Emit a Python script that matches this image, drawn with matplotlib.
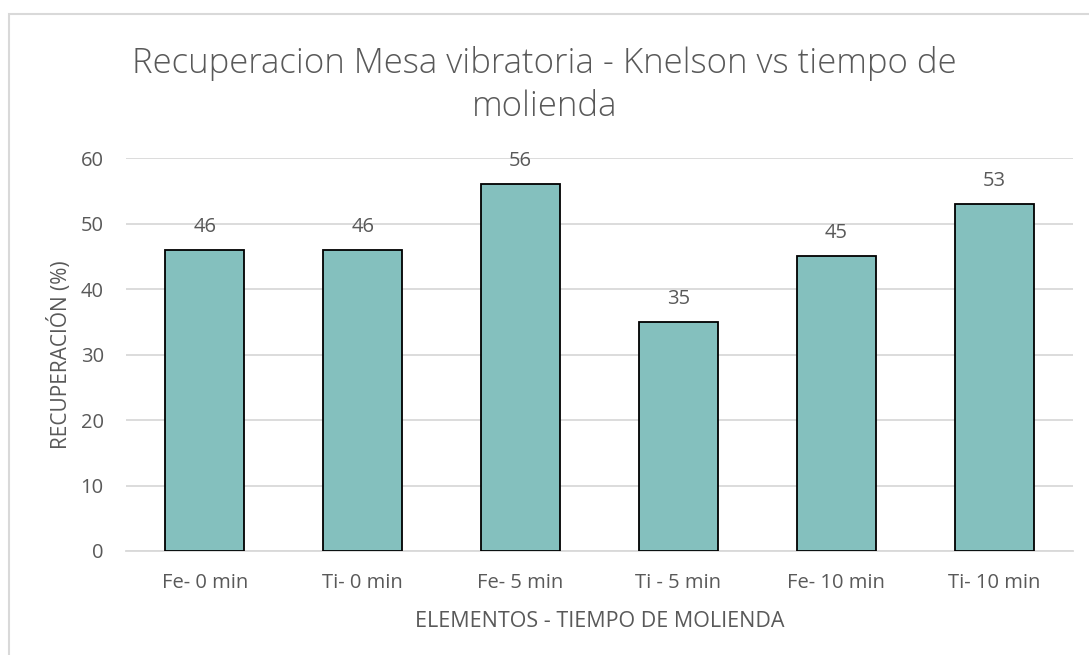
import matplotlib
matplotlib.use("Agg")
import matplotlib.pyplot as plt
from matplotlib.patches import Rectangle

categories = ["Fe- 0 min", "Ti- 0 min", "Fe- 5 min", "Ti - 5 min", "Fe- 10 min", "Ti- 10 min"]
recuperacion = [46, 46, 56, 35, 45, 53]
yticks = [0, 10, 20, 30, 40, 50, 60]

TXT = "#595959"
plt.rcParams["font.family"] = ["Open Sans", "DejaVu Sans"]

fig = plt.figure(figsize=(10.89, 6.55), dpi=100)
# chart frame (left/top edges visible, others run off the image)
fig.patches.append(Rectangle((8.5 / 1089, -0.05), 1.2, 1 - 14 / 655 + 0.05,
                             transform=fig.transFigure, fill=False,
                             ec="#d9d9d9", lw=1.5))

ax = fig.add_axes([126 / 1089, 1 - 551 / 655, 947 / 1089, (551 - 158) / 655])
x = range(len(categories))
ax.bar(x, recuperacion, width=0.5, color="#84c0be", edgecolor="black", lw=1.3, zorder=3)
for xi, v in zip(x, recuperacion):
    ax.text(xi, v + 2.0, f"{v}", ha="center", va="bottom", fontsize=14.5, color=TXT, zorder=4)

ax.set_xlim(-0.5, len(categories) - 0.5)
ax.set_ylim(0, 60)
ax.set_yticks(yticks)
ax.set_xticks(list(x))
ax.set_xticklabels(categories)
ax.tick_params(axis="both", length=0, labelsize=14.5, labelcolor=TXT)
ax.tick_params(axis="y", pad=16)
ax.tick_params(axis="x", pad=16)
ax.grid(axis="y", color="#d9d9d9", lw=1.3, zorder=0)
for s in ("top", "right", "left"):
    ax.spines[s].set_visible(False)
ax.spines["bottom"].set_color("#d9d9d9")
ax.spines["bottom"].set_linewidth(1.3)

ax.set_xlabel("ELEMENTOS - TIEMPO DE MOLIENDA", fontsize=15.5, color=TXT, labelpad=13)
ax.set_ylabel("RECUPERACIÓN (%)", fontsize=15, color=TXT, labelpad=6)

fig.text(0.5, 1 - 85 / 655, "Recuperacion Mesa vibratoria - Knelson vs tiempo de\nmolienda",
         ha="center", va="center", fontsize=25, color=TXT, fontweight="light", linespacing=1.32)

fig.savefig("out.png", dpi=100)
